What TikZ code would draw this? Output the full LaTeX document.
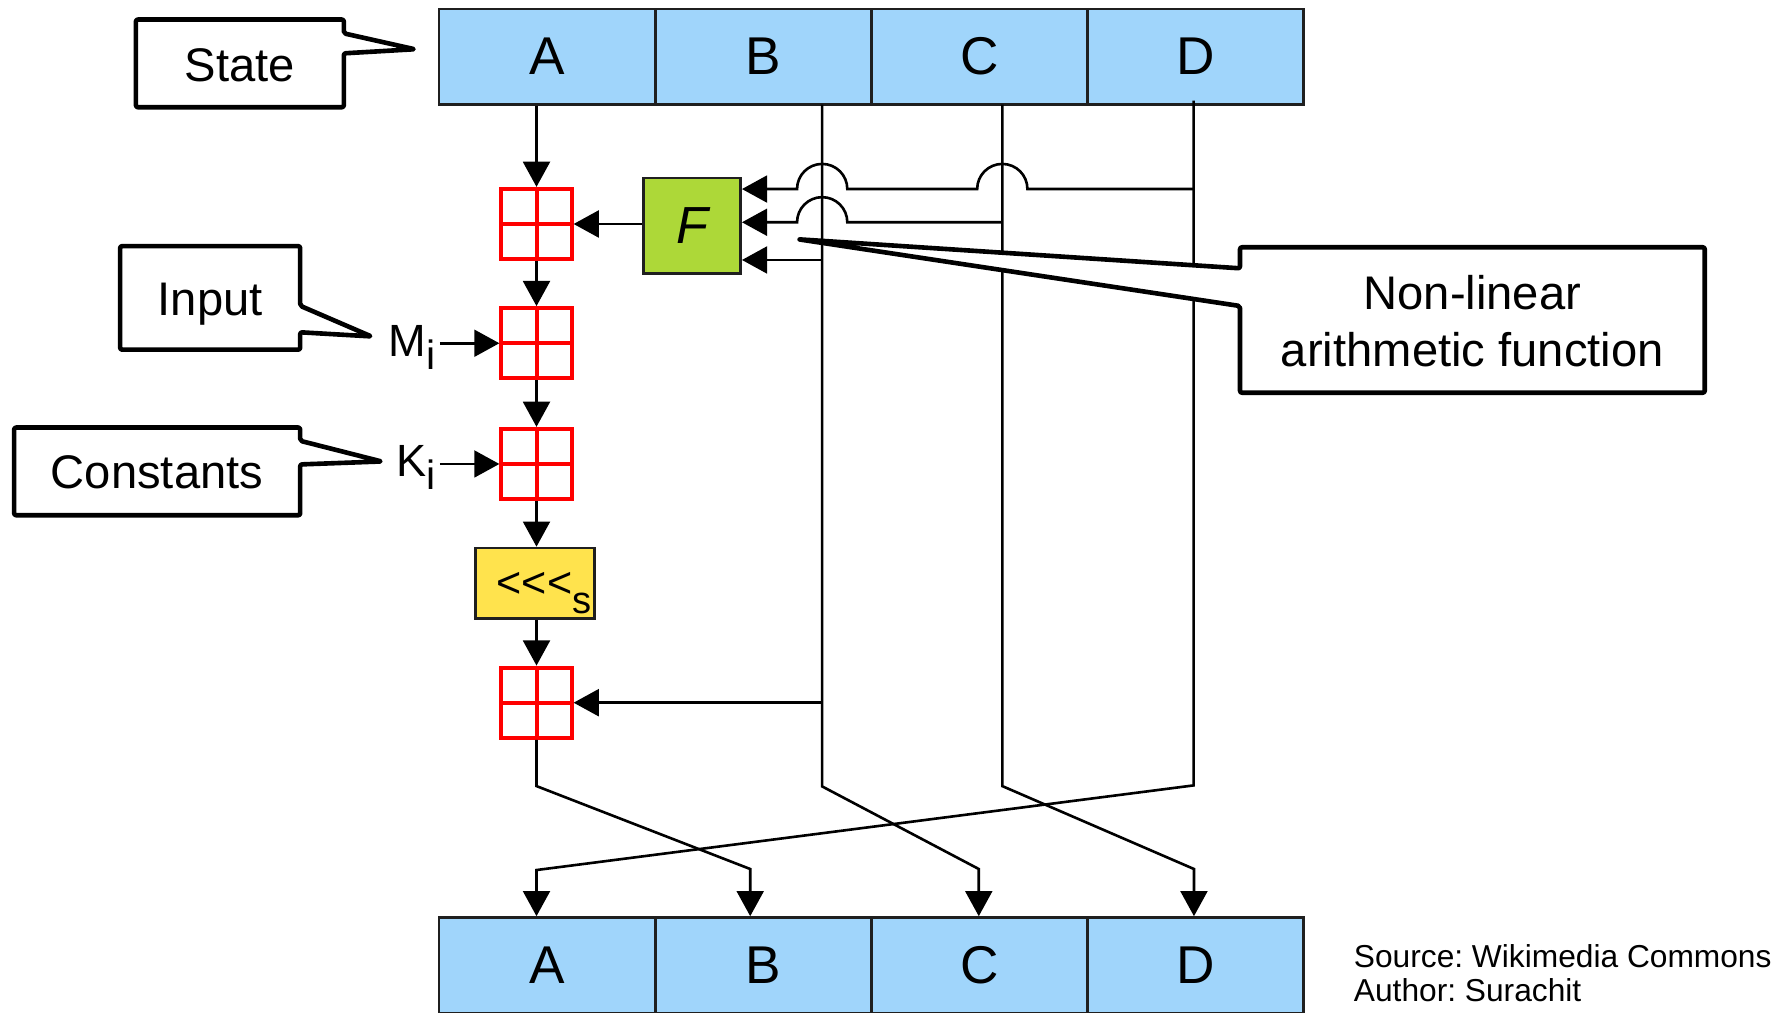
\documentclass[tikz,border=0pt]{standalone}
\usepackage{fontspec}
\setmainfont{Liberation Sans}
\usetikzlibrary{arrows.meta}
\definecolor{stateblue}{HTML}{A0D5FB}
\definecolor{fgreen}{HTML}{ADD838}
\definecolor{syellow}{HTML}{FFE34D}
\definecolor{adred}{HTML}{FF0000}
\frenchspacing
\begin{document}
\begin{tikzpicture}[x=0.02cm, y=-0.02cm,
  statecell/.style={draw=black!88, fill=stateblue, line width=1.3pt, minimum width=3.784cm, minimum height=1.67cm, inner sep=0pt, font=\fontsize{26.5}{26.5}\selectfont},
  adder/.style={draw=adred, line width=2pt, minimum size=1.23cm, inner sep=0pt,
    path picture={\draw[adred, line width=2pt] (path picture bounding box.north) -- (path picture bounding box.south) (path picture bounding box.west) -- (path picture bounding box.east);}},
  fbox/.style={draw=black!88, fill=fgreen, line width=1.3pt, minimum width=1.706cm, minimum height=1.676cm, inner sep=0pt, font=\fontsize{26}{26}\selectfont\itshape},
  shbox/.style={draw=black!88, fill=syellow, line width=1.3pt, minimum width=2.084cm, minimum height=1.238cm, inner sep=0pt},
  conn/.style={line width=1.3pt, line join=miter},
  arr/.style={conn, -{Triangle[length=0.44cm, width=0.47cm]}},
  callout/.style={draw=black, fill=white, line width=2.3pt, line join=round, rounded corners=1pt},
  calltext/.style={font=\fontsize{23.5}{28}\selectfont, inner sep=0pt},
  lab/.style={font=\fontsize{22.5}{22.5}\selectfont, inner xsep=0.076cm, inner ysep=0pt},
  srctext/.style={font=\fontsize{15.8}{15.8}\selectfont, inner sep=0pt}
]
\clip (0,0) rectangle (1568,886);
\useasboundingbox (0,0) rectangle (1568,886);

% state rows
\node[statecell] (tA) at (479,49.6) {A};
\node[statecell] (tB) at (668.2,49.6) {B};
\node[statecell] (tC) at (857.4,49.6) {C};
\node[statecell] (tD) at (1046.6,49.6) {D};
\node[statecell] (bA) at (479,845) {A};
\node[statecell] (bB) at (668.2,845) {B};
\node[statecell] (bC) at (857.4,845) {C};
\node[statecell] (bD) at (1046.6,845) {D};

% operation blocks
\node[adder] (s1) at (469.7,196.1) {};
\node[adder] (s2) at (469.7,300.5) {};
\node[adder] (s3) at (469.7,406.2) {};
\node[adder] (s4) at (469.7,615.2) {};
\node[fbox] (F) at (605.8,197.8) {F};
\node[shbox] (sh) at (468.5,510.7) {};
\node[inner sep=0pt, anchor=base west, font=\fontsize{21.5}{21.5}\selectfont] (shtxt) at (434.5,523) {<{}<{}<\raisebox{-8pt}{\fontsize{19}{19}\selectfont s}};

\node[lab, anchor=base east] (Mi) at (385.2,312.3) {M\raisebox{-6.3pt}{\fontsize{20.4}{20.4}\selectfont i}};
\node[lab, anchor=base east] (Ki) at (385.2,417.3) {K\raisebox{-6.6pt}{\fontsize{20.4}{20.4}\selectfont i}};

% coordinates of the wires
\coordinate (Bt) at (719.8,91.5);
\coordinate (Ct) at (877.5,91.5);
\coordinate (Dt) at (1045,88);
\coordinate (Ab) at (469.7,688.2); \coordinate (Ad) at (656.8,760.8);
\coordinate (Bb) at (719.8,688.5); \coordinate (Bd) at (856.9,760.8);
\coordinate (Cb) at (877.5,688.2); \coordinate (Cd) at (1045.3,760.8);
\coordinate (Db) at (1045,687.6);  \coordinate (Dd) at (469.7,761.7);

% main chain
\draw[arr] (tA.south -| s1) -- (s1.north);
\draw[arr] (s1.south) -- (s2.north);
\draw[arr] (s2.south) -- (s3.north);
\draw[arr] (s3.south) -- (s3.south |- sh.north);
\draw[arr] (sh.south -| s4) -- (s4.north);
\draw[arr] (F.west |- s1) -- (s1.east);
\draw[arr] (Mi.east |- s2) -- (s2.west);
\draw[arr] (Ki.east |- s3) -- (s3.west);

% wires to the new state
\draw[arr] (s4.south) -- (Ab) -- (Ad) -- (Ad |- bB.north);
\draw[arr] (Bt) -- (Bb) -- (Bd) -- (Bd |- bC.north);
\draw[arr] (Ct) -- (Cb) -- (Cd) -- (Cd |- bD.north);
\draw[arr] (Dt) -- (Db) -- (Dd) -- (Dd |- bA.north);
\draw[arr] (Bt |- s4) -- (s4.east);

% inputs of F
\draw[arr] (Dt |- 0,165.5) -- (899.5,165.5) arc[start angle=0, end angle=180, radius=0.44cm] -- (741.8,165.5) arc[start angle=0, end angle=180, radius=0.44cm] -- (F.east |- 0,165.5);
\draw[arr] (Ct |- 0,194.6) -- (741.8,194.6) arc[start angle=0, end angle=180, radius=0.44cm] -- (F.east |- 0,194.6);
\draw[arr] (Bt |- 0,227.6) -- (F.east |- 0,227.6);

% callouts
\draw[callout] (119,17.1) -- (301,17.1) -- (301,29.2) -- (363,43.1) -- (301,46.7) -- (301,93.9) -- (119,93.9) -- cycle;
\node[calltext, anchor=base] (lstate) at (210,71.2) {State};
\draw[callout] (105.2,215.5) -- (262.8,215.5) -- (262.8,267.7) -- (325,294.5) -- (262.8,290.9) -- (262.8,306.1) -- (105.2,306.1) -- cycle;
\node[calltext, anchor=base] (linput) at (184,275.9) {Input};
\draw[callout] (12.4,374.3) -- (262.8,374.3) -- (262.8,385.9) -- (334,404) -- (262.8,406.6) -- (262.8,451.1) -- (12.4,451.1) -- cycle;
\node[calltext, anchor=base] (lconst) at (137.5,427.5) {Constants};
\draw[callout] (1085.6,216.5) -- (1492.5,216.5) -- (1492.5,343.8) -- (1085.6,343.8) -- (1085.6,267.9) -- (699,209.5) -- (1085.6,234.9) -- cycle;
\node[calltext, anchor=base] (lnl1) at (1289,270.8) {Non-linear};
\node[calltext, anchor=base] (lnl2) at (1289,321) {arithmetic function};

% source
\node[srctext, anchor=base west] (src1) at (1185,846.9) {Source: Wikimedia Commons};
\node[srctext, anchor=base west] (src2) at (1185,876.4) {Author: Surachit};
\end{tikzpicture}
\end{document}
